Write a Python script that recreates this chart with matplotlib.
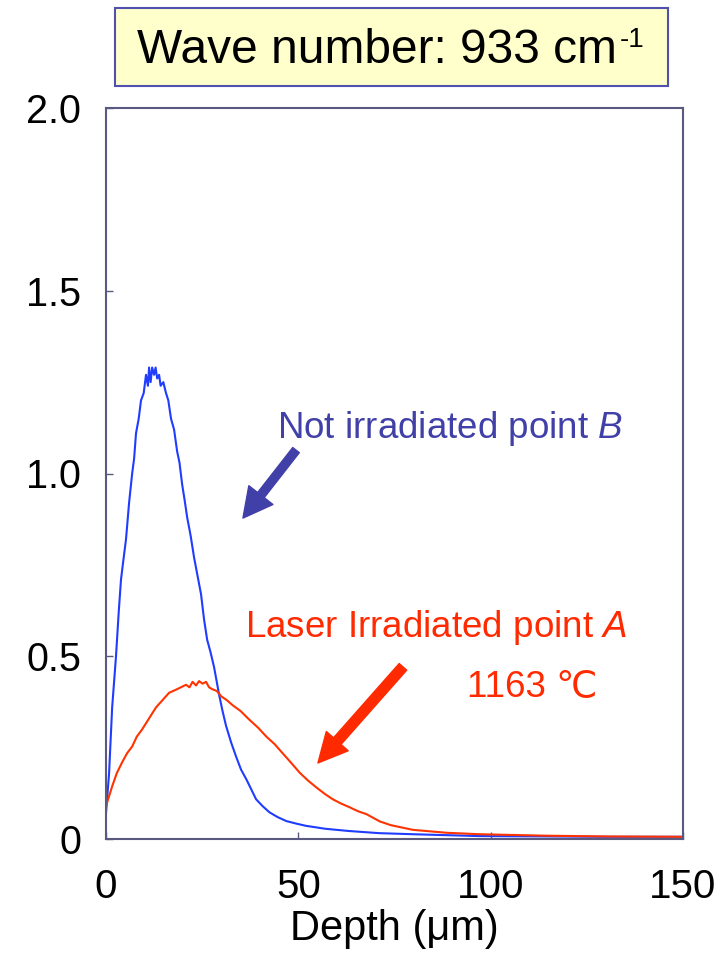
import matplotlib.pyplot as plt

plt.rcParams['font.family'] = ['Liberation Sans', 'DejaVu Sans']
plt.rcParams['mathtext.fontset'] = 'custom'
plt.rcParams['mathtext.rm'] = 'Liberation Sans'
plt.rcParams['mathtext.it'] = 'Liberation Sans:italic'

# depth (um) and signal
depth_b = [0, 0.8, 1.6, 2.6, 3.3, 3.9, 4.6, 5.2, 6.0, 6.8, 7.3, 7.8, 8.5, 9.1, 9.8,
           10.4, 10.9, 11.2, 11.6, 12.0, 12.5, 12.9, 13.3, 13.8, 14.2, 14.9, 15.6,
           16.2, 16.9, 17.7, 18.5, 19.1, 19.8, 20.4, 21.1, 22.0, 22.9, 23.8, 24.7,
           25.5, 26.3, 27.2, 28.1, 29.4, 30.3, 31.2, 32.5, 33.8, 35.1, 36.5, 37.8,
           39.0, 40.7, 42.5, 44.6, 46.9, 49.5, 52.0, 57.0, 63.0, 71.0, 80.0, 97.0,
           115.0, 130.0, 150.0]
signal_b = [0.07, 0.18, 0.36, 0.50, 0.62, 0.71, 0.77, 0.82, 0.92, 1.00, 1.04, 1.11, 1.15, 1.20, 1.22,
            1.27, 1.24, 1.29, 1.25, 1.29, 1.27, 1.29, 1.26, 1.27, 1.24, 1.25, 1.22,
            1.20, 1.15, 1.12, 1.06, 1.03, 0.97, 0.93, 0.88, 0.83, 0.77, 0.72, 0.67,
            0.60, 0.545, 0.51, 0.47, 0.395, 0.35, 0.31, 0.265, 0.226, 0.19, 0.163, 0.135,
            0.109, 0.09, 0.073, 0.06, 0.049, 0.042, 0.036, 0.028, 0.022, 0.016, 0.013, 0.008,
            0.007, 0.006, 0.006]

depth_a = [0, 1.6, 2.8, 4.2, 5.5, 6.8, 8.0, 9.4, 11.2, 13.0, 14.7, 16.4, 18.5, 20.8,
           21.7, 22.5, 23.4, 24.2, 25.1, 26.0, 26.8, 27.6, 28.8, 30.0, 31.4, 32.8,
           35.0, 37.2, 39.5, 41.7, 43.8, 45.8, 48.0, 50.3, 52.5, 54.7, 56.8, 58.9,
           61.1, 63.3, 65.5, 67.7, 71.2, 74.0, 79.8, 88.6, 97.2, 114.6, 130.0, 150.0]
signal_a = [0.09, 0.144, 0.18, 0.21, 0.235, 0.253, 0.28, 0.30, 0.33, 0.36, 0.38, 0.40, 0.41, 0.422,
            0.415, 0.43, 0.42, 0.432, 0.425, 0.43, 0.415, 0.41, 0.405, 0.39, 0.38, 0.367,
            0.35, 0.327, 0.305, 0.28, 0.26, 0.236, 0.21, 0.182, 0.16, 0.141, 0.124, 0.109,
            0.097, 0.087, 0.076, 0.068, 0.048, 0.038, 0.025, 0.017, 0.013, 0.009, 0.007, 0.006]

x_ticks = [0, 50, 100, 150]
y_ticks = [0, 0.5, 1.0, 1.5, 2.0]
y_tick_labels = ['0', '0.5', '1.0', '1.5', '2.0']

blue = '#1f3cff'
red = '#ff3300'
note_blue = '#4040a8'
note_red = '#ff2a00'
spine_col = '#5a5a80'

W, H = 721, 958
fig = plt.figure(figsize=(W / 100, H / 100), dpi=100)
ax = fig.add_axes([106 / W, 1 - 839 / H, 577 / W, 731 / H])

ax.plot(depth_b, signal_b, color=blue, linewidth=1.5)
ax.plot(depth_a, signal_a, color=red, linewidth=1.5)

ax.set_xlim(0, 150)
ax.set_ylim(0, 2.0)
ax.set_xticks(x_ticks)
ax.set_yticks(y_ticks)
ax.set_yticklabels(y_tick_labels)
ax.tick_params(direction='in', length=5, width=1, color=spine_col)
ax.tick_params(axis='x', pad=21, labelsize=29)
ax.tick_params(axis='y', pad=18, labelsize=28.5)
for s in ax.spines.values():
    s.set_color(spine_col)
    s.set_linewidth(1.5)

ax.set_xlabel('Depth (\u03bcm)', fontsize=30, labelpad=2)

# annotations
ax.text(44.45, 1.097, 'Not irradiated point $\\mathit{B}$', color=note_blue, fontsize=26.5)
ax.annotate('', xy=(35.6, 0.878), xytext=(49.4, 1.064),
            arrowprops=dict(arrowstyle='simple,head_length=1.05,head_width=1.1,tail_width=0.3',
                            mutation_scale=20, color=note_blue, shrinkA=0, shrinkB=0))
ax.text(36.1, 0.553, 'Laser Irradiated point $\\mathit{A}$', color=note_red, fontsize=26.5)
ax.text(93.8, 0.389, '1163 \u2103', color=note_red, fontsize=26.5)
ax.annotate('', xy=(55.1, 0.208), xytext=(77.2, 0.471),
            arrowprops=dict(arrowstyle='simple,head_length=1.05,head_width=1.05,tail_width=0.36',
                            mutation_scale=20, color=note_red, shrinkA=0, shrinkB=0))

# title box
fig.add_artist(plt.Rectangle((115 / W, 1 - 86 / H), 553 / W, 78 / H, transform=fig.transFigure,
                             facecolor='#ffffcc', edgecolor='#5050b0', linewidth=1.5))
fig.text(137 / W, 1 - 63 / H, 'Wave number: 933 cm', fontsize=34.5, ha='left', va='baseline')
fig.text(620 / W, 1 - 47 / H, '-1', fontsize=20, ha='left', va='baseline')

fig.savefig('out.png', dpi=100)
